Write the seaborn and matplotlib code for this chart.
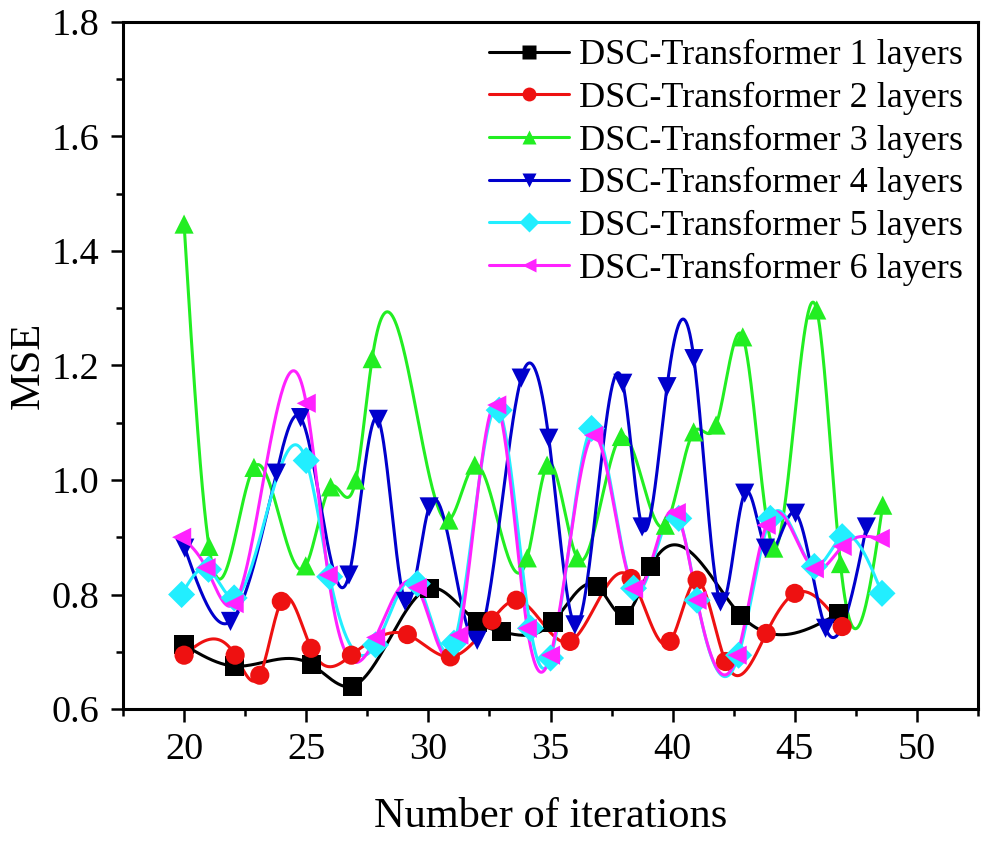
import numpy as np
import pandas as pd
import seaborn as sns
import matplotlib.pyplot as plt
from matplotlib.lines import Line2D
from matplotlib.ticker import MultipleLocator

# values
x1 = [20.0, 22.05, 25.2, 26.9, 30.03, 32.0, 33.0, 35.1, 36.93, 38.04, 39.11, 42.78, 46.8]
y1 = [0.712, 0.675, 0.678, 0.640, 0.811, 0.752, 0.735, 0.752, 0.814, 0.764, 0.849, 0.764, 0.767]

x2 = [20.0, 22.09, 23.1, 23.98, 25.2, 26.85, 29.14, 30.9, 32.6, 33.6, 35.8, 38.3, 39.9,
      41.0, 42.16, 43.83, 45.0, 46.94]
y2 = [0.694, 0.694, 0.659, 0.788, 0.706, 0.694, 0.730, 0.691, 0.755, 0.790, 0.718, 0.828, 0.718,
      0.825, 0.683, 0.732, 0.802, 0.744]

x3 = [20.0, 21.02, 22.86, 24.98, 26.0, 27.03, 27.7, 30.84, 31.9, 34.05, 34.86, 36.09, 37.9,
      39.7, 40.86, 41.78, 42.87, 44.14, 45.9, 46.87, 48.6]
y3 = [1.447, 0.884, 1.022, 0.850, 0.988, 1.000, 1.212, 0.930, 1.026, 0.864, 1.026, 0.864, 1.076,
      0.921, 1.084, 1.096, 1.250, 0.881, 1.297, 0.854, 0.956]

x4 = [20.03, 21.9, 23.78, 24.77, 26.75, 27.95, 29.05, 30.03, 32.0, 33.8, 34.93, 36.0, 37.96,
      38.75, 39.77, 40.87, 41.96, 42.95, 43.8, 45.03, 46.26, 47.93]
y4 = [0.881, 0.753, 1.012, 1.109, 0.834, 1.106, 0.788, 0.953, 0.720, 1.178, 1.073, 0.747, 1.169,
      0.918, 1.163, 1.212, 0.787, 0.977, 0.881, 0.942, 0.741, 0.918]

x5 = [19.9, 21.0, 22.05, 25.0, 25.96, 27.84, 29.55, 31.05, 32.9, 34.18, 35.0, 36.68, 38.4,
      40.25, 41.0, 42.7, 44.0, 45.8, 46.94, 48.57]
y5 = [0.800, 0.844, 0.794, 1.034, 0.831, 0.712, 0.819, 0.715, 1.122, 0.741, 0.689, 1.090, 0.811,
      0.933, 0.790, 0.694, 0.933, 0.849, 0.901, 0.802]

x6 = [19.9, 20.9, 22.05, 25.0, 25.9, 27.84, 29.55, 31.25, 32.8, 34.05, 35.0, 36.77, 38.4,
      40.15, 41.0, 42.64, 43.83, 45.8, 46.94, 48.5]
y6 = [0.900, 0.847, 0.784, 1.134, 0.834, 0.725, 0.812, 0.729, 1.131, 0.741, 0.694, 1.078, 0.810,
      0.943, 0.790, 0.694, 0.921, 0.845, 0.884, 0.898]

labels = [f"DSC-Transformer {i} layers" for i in range(1, 7)]
colors = ["#000000", "#ee1111", "#22ee22", "#0000cc", "#22eeff", "#ff22ff"]
markers = ["s", "o", "^", "v", "D", "<"]


def natural_spline(x, y, n=60):
    # smooth connecting line through the points (natural cubic spline)
    x = np.asarray(x, float)
    y = np.asarray(y, float)
    k = len(x)
    h = np.diff(x)
    A = np.zeros((k, k))
    b = np.zeros(k)
    A[0, 0] = A[-1, -1] = 1
    for i in range(1, k - 1):
        A[i, i - 1] = h[i - 1]
        A[i, i] = 2 * (h[i - 1] + h[i])
        A[i, i + 1] = h[i]
        b[i] = 6 * ((y[i + 1] - y[i]) / h[i] - (y[i] - y[i - 1]) / h[i - 1])
    M = np.linalg.solve(A, b)
    xs, ys = [], []
    for i in range(k - 1):
        t = np.linspace(x[i], x[i + 1], n, endpoint=False)
        a = x[i + 1] - t
        c = t - x[i]
        s = (M[i] * a ** 3 + M[i + 1] * c ** 3) / (6 * h[i]) \
            + (y[i] / h[i] - M[i] * h[i] / 6) * a \
            + (y[i + 1] / h[i] - M[i + 1] * h[i] / 6) * c
        xs.append(t)
        ys.append(s)
    xs.append([x[-1]])
    ys.append([y[-1]])
    return np.concatenate(xs), np.concatenate(ys)


series = [(x1, y1), (x2, y2), (x3, y3), (x4, y4), (x5, y5), (x6, y6)]
pts = pd.concat([pd.DataFrame({"iter": xs, "mse": ys, "model": lab})
                 for (xs, ys), lab in zip(series, labels)], ignore_index=True)
curves = []
for (xs, ys), lab in zip(series, labels):
    cx, cy = natural_spline(xs, ys)
    curves.append(pd.DataFrame({"iter": cx, "mse": cy, "model": lab}))
curves = pd.concat(curves, ignore_index=True)

sns.set_theme(style="ticks")
plt.rcParams["font.family"] = ["Liberation Serif", "DejaVu Serif"]
plt.rcParams["text.color"] = "black"
plt.rcParams["axes.labelcolor"] = "black"
plt.rcParams["xtick.color"] = "black"
plt.rcParams["ytick.color"] = "black"

palette = dict(zip(labels, colors))
fig, ax = plt.subplots(figsize=(9.83, 8.42), dpi=100)
fig.subplots_adjust(left=123 / 983, right=978 / 983, top=1 - 22 / 842, bottom=1 - 709 / 842)

sns.lineplot(data=curves, x="iter", y="mse", hue="model", palette=palette,
             estimator=None, sort=False, linewidth=2.2, legend=False, ax=ax)
sns.scatterplot(data=pts, x="iter", y="mse", hue="model", style="model",
                palette=palette, markers=dict(zip(labels, markers)),
                s=190, edgecolor="none", legend=False, ax=ax, zorder=3)

ax.set_xlim(17.5, 52.5)
ax.set_ylim(0.6, 1.8)
ax.xaxis.set_major_locator(MultipleLocator(5))
ax.xaxis.set_minor_locator(MultipleLocator(2.5))
ax.yaxis.set_minor_locator(MultipleLocator(0.1))
ax.set_yticks(np.arange(0.6, 1.81, 0.2))
ax.set_yticklabels([f"{v:.1f}" for v in np.arange(0.6, 1.81, 0.2)])
ax.tick_params(which="major", direction="out", length=9, width=1.8, labelsize=27.5, pad=8)
ax.tick_params(which="minor", direction="out", length=5, width=1.8)
for sp in ax.spines.values():
    sp.set_linewidth(2.2)
    sp.set_color("black")

ax.set_xlabel("Number of iterations", fontsize=30.5, labelpad=22)
ax.set_ylabel("MSE", fontsize=30.5)
ax.yaxis.set_label_coords(-0.088, 0.5)

handles = [Line2D([0], [0], color=c, marker=m, markersize=10, linewidth=2.2,
                  markeredgecolor="none") for c, m in zip(colors, markers)]
ax.legend(handles, labels, loc="upper right", bbox_to_anchor=(0.983, 0.975),
          frameon=False, fontsize=26, handlelength=2.2, handletextpad=0.3,
          labelspacing=0.26, borderpad=0, borderaxespad=0)

fig.savefig("out.png", dpi=100)
